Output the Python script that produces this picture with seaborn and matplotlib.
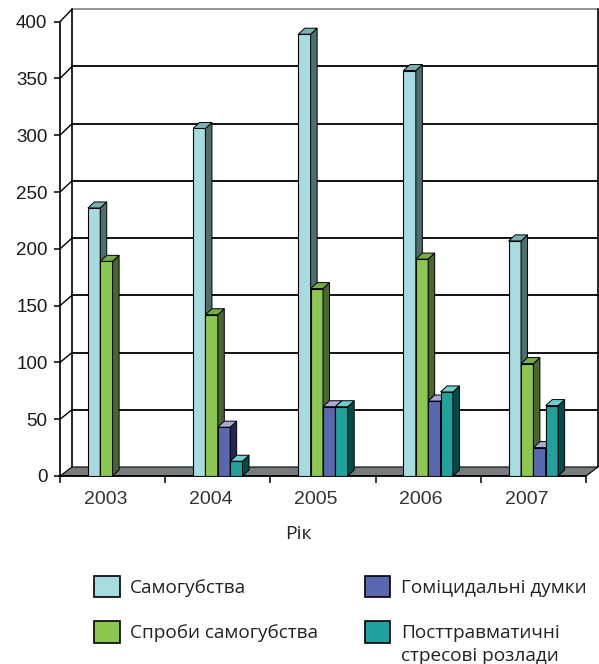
import numpy as np
import pandas as pd
import matplotlib
matplotlib.use("Agg")
import matplotlib.pyplot as plt
from matplotlib.patches import Polygon, Rectangle
from matplotlib.lines import Line2D
from matplotlib.transforms import ScaledTranslation
import seaborn as sns

# ---------------- data ----------------
years = ["2003", "2004", "2005", "2006", "2007"]
series = ["Самогубства", "Спроби самогубства", "Гоміцидальні думки",
          "Посттравматичні стресові розлади"]
suicides = [236, 306, 389, 357, 207]
attempts = [189, 142, 165, 191, 99]
homicidal = [0, 43, 61, 66, 25]
ptsd = [0, 13, 61, 74, 62]
yticks = [0, 50, 100, 150, 200, 250, 300, 350, 400]
x_label = "Рік"

front_colors = ["#A6DCDD", "#8CC851", "#5A69AF", "#21A09C"]
side_colors = ["#4E6D6D", "#4A6432", "#23265C", "#034C4A"]
top_colors = ["#7CB0B0", "#79AC45", "#A9A9D6", "#6DCFD0"]

df = pd.DataFrame({
    "year": years * 4,
    "series": np.repeat(series, len(years)),
    "value": suicides + attempts + homicidal + ptsd,
})

sns.set_style("white")
plt.rcParams["font.family"] = ["Liberation Sans", "DejaVu Sans"]
legend_font = ["Open Sans", "DejaVu Sans"]

W, H = 599, 664
fig = plt.figure(figsize=(W / 100, H / 100), dpi=100)
ax_left, ax_right, ax_bottom, ax_top = 60, 586, 476, 21.7
ax = fig.add_axes([ax_left / W, 1 - ax_bottom / H,
                   (ax_right - ax_left) / W, (ax_bottom - ax_top) / H])

sns.barplot(data=df, x="year", y="value", hue="series", order=years,
            hue_order=series, palette=front_colors, width=0.47, gap=0,
            edgecolor="black", linewidth=0.8, saturation=1, errorbar=None,
            legend=False, ax=ax)

xmin, xmax = -0.5, len(years) - 0.5
ax.set_xlim(xmin, xmax)
ax.set_ylim(0, 400)

# pixel -> data conversions
pxx = (xmax - xmin) / (ax_right - ax_left)
pxy = 400 / (ax_bottom - ax_top)

# ---------- 3D back wall, side wall, floor ----------
wdx = 12 * pxx
def wdy(v):
    return (9 + v / 400 * 3.5) * pxy

floor = Polygon([(xmin, 0), (xmax, 0), (xmax + wdx, wdy(0)), (xmin + wdx, wdy(0))],
                closed=True, facecolor="#787C7E", edgecolor="black",
                linewidth=0.8, zorder=1.5, clip_on=False)
ax.add_patch(floor)
for v in yticks[1:]:
    col = "#8a8a8a" if v == 400 else "black"
    ax.add_line(Line2D([xmin + wdx, xmax + wdx], [v + wdy(v), v + wdy(v)],
                       color=col, lw=1.3, zorder=1, clip_on=False))
    ax.add_line(Line2D([xmin, xmin + wdx], [v, v + wdy(v)],
                       color="black", lw=1.0, zorder=1, clip_on=False))
for xb in (xmin + wdx, xmax + wdx):
    ax.add_line(Line2D([xb, xb], [wdy(0), 400 + wdy(400)],
                       color="black", lw=1.2, zorder=1, clip_on=False))

# ---------- 3D bar faces ----------
bdx, bdy = 6.5 * pxx, 6 * pxy
for k, cont in enumerate(ax.containers):
    for bar in cont.patches:
        h = bar.get_height()
        z = 3 + k
        bar.set_zorder(z)
        if h <= 0:
            bar.set_visible(False)
            continue
        x0, w = bar.get_x(), bar.get_width()
        side = Polygon([(x0 + w, 0), (x0 + w + bdx, bdy), (x0 + w + bdx, h + bdy), (x0 + w, h)],
                       closed=True, facecolor=side_colors[k], edgecolor="black",
                       linewidth=0.7, zorder=z, clip_on=False)
        top = Polygon([(x0, h), (x0 + w, h), (x0 + w + bdx, h + bdy), (x0 + bdx, h + bdy)],
                      closed=True, facecolor=top_colors[k], edgecolor="black",
                      linewidth=0.7, zorder=z, clip_on=False)
        ax.add_patch(side)
        ax.add_patch(top)

# ---------- axes styling ----------
for s in ("top", "right"):
    ax.spines[s].set_visible(False)
for s in ("left", "bottom"):
    ax.spines[s].set_color("black")
    ax.spines[s].set_linewidth(1.2)
    ax.spines[s].set_zorder(2)
ax.set_yticks(yticks)
ax.set_yticklabels([str(v) for v in yticks])
ax.tick_params(axis="y", left=True, direction="out", length=4, width=1.1,
               pad=5, labelsize=13.5, labelcolor="#1a1a1a", color="black")
ax.set_xticks(range(len(years)))
ax.set_xticklabels(years)
ax.set_xticks(np.arange(xmin, xmax + 0.01, 1), minor=True)
ax.tick_params(axis="x", which="major", bottom=True, length=0, pad=11,
               labelsize=14, labelcolor="#333333")
ax.tick_params(axis="x", which="minor", bottom=True, direction="out",
               length=5, width=1.1, color="black")
for lab in ax.get_xticklabels():
    lab.set_transform(lab.get_transform() + ScaledTranslation(-7 / 100, 0, fig.dpi_scale_trans))
ax.set_ylabel("")
ax.set_xlabel(x_label, fontsize=14, family=legend_font, color="#222222")
ax.xaxis.set_label_coords((298 - ax_left) / (ax_right - ax_left),
                          -(525 - ax_bottom) / (ax_bottom - ax_top))
ax.grid(False)

# ---------- legend ----------
handles = [Rectangle((0, 0), 1, 1, facecolor=c, edgecolor="black", linewidth=1.2)
           for c in front_colors]
leg_labels = series[:3] + ["Посттравматичні"]
leg = fig.legend(handles, leg_labels, ncol=2, loc="upper left",
                 bbox_to_anchor=(94 / W, 1 - 576 / H), frameon=False,
                 prop={"family": legend_font, "size": 13.7},
                 handlelength=1.35, handleheight=1.35, handletextpad=0.55,
                 columnspacing=2.45, labelspacing=1.25, borderpad=0,
                 borderaxespad=0)
for t in leg.get_texts():
    t.set_color("#222222")

fig.canvas.draw()
renderer = fig.canvas.get_renderer()
bb = leg.get_texts()[3].get_window_extent(renderer)
fig.text(bb.x0 / W, (bb.y0 - 5) / H, "стресові розлади", va="top", ha="left",
         family=legend_font, fontsize=13.7, color="#222222")

fig.savefig("out.png", dpi=100)
